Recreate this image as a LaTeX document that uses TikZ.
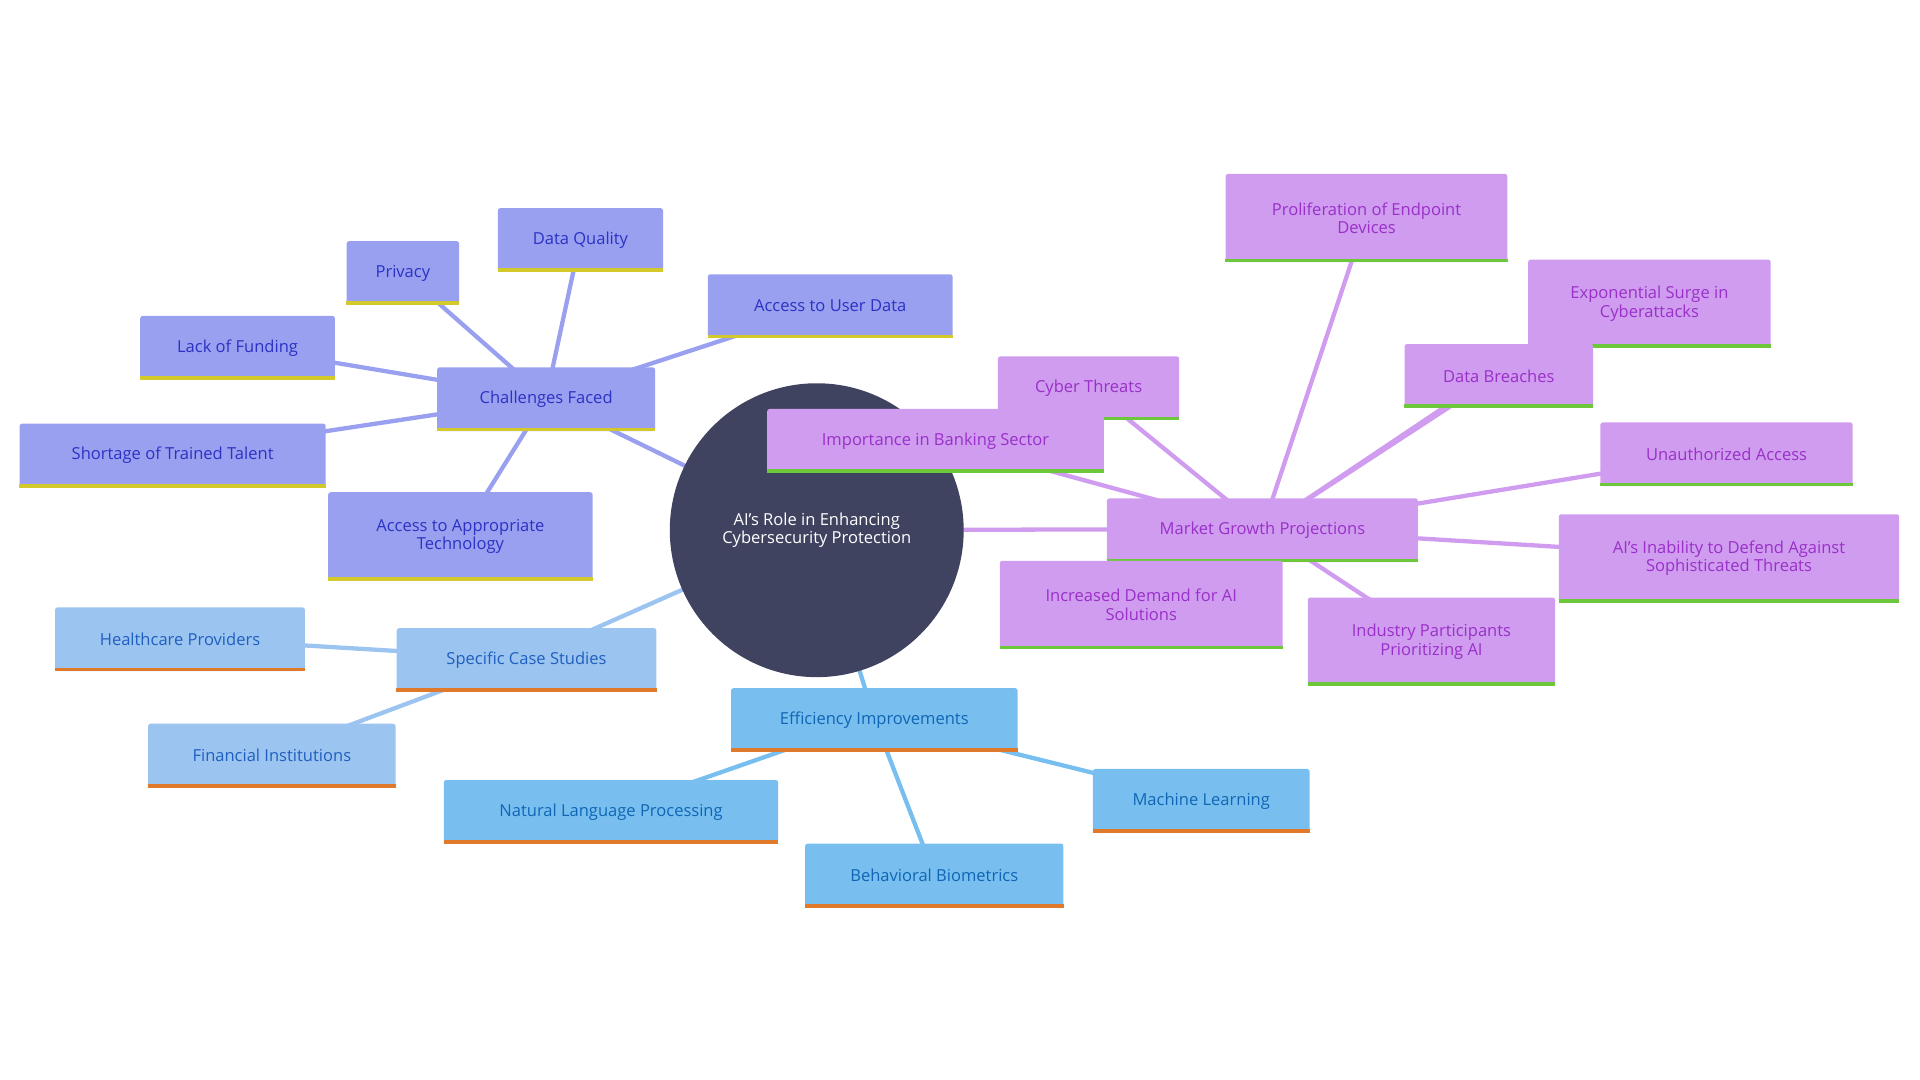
\documentclass[tikz,border=0pt]{standalone}
\usepackage{fontspec}
\setmainfont{Open Sans}
\begin{document}
\begin{tikzpicture}[x=1pt,y=-1pt,
 box/.style={rectangle,rounded corners=2pt,inner sep=2pt,align=center,font=\fontsize{13.5}{15}\selectfont},
 ch/.style={box,fill=chF,text=chT},
 cs/.style={box,fill=csF,text=csT},
 ef/.style={box,fill=efF,text=efT},
 mk/.style={box,fill=mkF,text=mkT},
 ed/.style={line width=3.5pt},
]
\definecolor{chF}{HTML}{9AA0F0}\definecolor{chT}{HTML}{2B32C4}\definecolor{chL}{HTML}{D4C92A}
\definecolor{csF}{HTML}{9CC4F0}\definecolor{csT}{HTML}{1F5FBF}\definecolor{csL}{HTML}{E07A2A}
\definecolor{efF}{HTML}{78BFF0}\definecolor{efT}{HTML}{1066B4}
\definecolor{mkF}{HTML}{CF9CF0}\definecolor{mkT}{HTML}{9A30C8}\definecolor{mkL}{HTML}{6CC83A}
\definecolor{ctr}{HTML}{3F4360}
\useasboundingbox (0,0) rectangle (1568,882);
\newcommand\bx[7]{\node[#6,minimum width=#4,minimum height=#5] (#1) at (#2,#3) {#7};}
\newcommand\bl[2]{\draw[#2,line width=3pt] ([yshift=1.5pt]#1.south west) -- ([yshift=1.5pt]#1.south east);}
% coordinates for edges
\coordinate (C) at (667,433);
\coordinate (ch) at (446,325);\coordinate (dq) at (474,195);\coordinate (pr) at (329,222);
\coordinate (au) at (678,249);\coordinate (lf) at (194,283);\coordinate (st) at (141,371);\coordinate (at) at (376,437);
\coordinate (cs) at (430,538);\coordinate (hp) at (147,521);\coordinate (fi) at (222,616);
\coordinate (ef) at (714,587);\coordinate (nl) at (499,662);\coordinate (bb) at (763,714);\coordinate (ml) at (981,653);
\coordinate (mk) at (1031,432);\coordinate (ct) at (889,316);\coordinate (ib) at (764,359);\coordinate (pe) at (1116,177);
\coordinate (es) at (1347,247);\coordinate (db) at (1224,306);\coordinate (ua) at (1410,370);\coordinate (ai) at (1412,455);
\coordinate (ip) at (1169,523);\coordinate (id) at (932,493);
\foreach \a in {dq,pr,au,lf,st,at}{\draw[ed,chF] (ch) -- (\a);}
\draw[ed,chF] (C) -- (ch);
\foreach \a in {hp,fi}{\draw[ed,csF] (cs) -- (\a);}
\draw[ed,csF] (C) -- (cs);
\foreach \a in {nl,bb,ml}{\draw[ed,efF] (ef) -- (\a);}
\draw[ed,efF] (C) -- (ef);
\foreach \a in {ct,ib,pe,db,ua,ai,ip,id}{\draw[ed,mkF] (mk) -- (\a);}
\draw[ed,mkF] (mk) -- ([xshift=-25pt,yshift=10pt]es.south);
\draw[ed,mkF] (C) -- (mk);
\node[circle,fill=ctr,minimum size=240pt,text=white,align=center,font=\fontsize{13.5}{15}\selectfont] (c) at (C) {AI's Role in Enhancing\\Cybersecurity Protection};
% challenges
\bx{n1}{446}{326}{178}{52}{ch}{Challenges Faced}\bl{n1}{chL}
\bx{n2}{474}{196}{135}{52}{ch}{Data Quality}\bl{n2}{chL}
\bx{n3}{329}{223}{92}{52}{ch}{Privacy}\bl{n3}{chL}
\bx{n4}{678}{250}{200}{52}{ch}{Access to User Data}\bl{n4}{chL}
\bx{n5}{194}{284}{159}{52}{ch}{Lack of Funding}\bl{n5}{chL}
\bx{n6}{141}{372}{250}{52}{ch}{Shortage of Trained Talent}\bl{n6}{chL}
\bx{n7}{376}{438}{216}{72}{ch}{Access to Appropriate\\Technology}\bl{n7}{chL}
% case studies
\bx{n8}{430}{539}{212}{52}{cs}{Specific Case Studies}\bl{n8}{csL}
\bx{n9}{147}{522}{204}{52}{cs}{Healthcare Providers}\bl{n9}{csL}
\bx{n10}{222}{617}{202}{52}{cs}{Financial Institutions}\bl{n10}{csL}
% efficiency
\bx{n11}{714}{588}{234}{52}{ef}{Efficiency Improvements}\bl{n11}{csL}
\bx{n12}{499}{663}{273}{52}{ef}{Natural Language Processing}\bl{n12}{csL}
\bx{n13}{763}{715}{211}{52}{ef}{Behavioral Biometrics}\bl{n13}{csL}
\bx{n14}{981}{654}{177}{52}{ef}{Machine Learning}\bl{n14}{csL}
% market
\bx{n15}{1031}{433}{254}{52}{mk}{Market Growth Projections}\bl{n15}{mkL}
\bx{n16}{889}{317}{148}{52}{mk}{Cyber Threats}\bl{n16}{mkL}
\bx{n17}{764}{360}{275}{52}{mk}{Importance in Banking Sector}\bl{n17}{mkL}
\bx{n18}{1116}{178}{230}{72}{mk}{Proliferation of Endpoint\\Devices}\bl{n18}{mkL}
\bx{n19}{1347}{248}{198}{72}{mk}{Exponential Surge in\\Cyberattacks}\bl{n19}{mkL}
\bx{n20}{1224}{307}{154}{52}{mk}{Data Breaches}\bl{n20}{mkL}
\bx{n21}{1410}{371}{206}{52}{mk}{Unauthorized Access}\bl{n21}{mkL}
\bx{n22}{1412}{456}{278}{72}{mk}{AI's Inability to Defend Against\\Sophisticated Threats}\bl{n22}{mkL}
\bx{n23}{1169}{524}{202}{72}{mk}{Industry Participants\\Prioritizing AI}\bl{n23}{mkL}
\bx{n24}{932}{494}{231}{72}{mk}{Increased Demand for AI\\Solutions}\bl{n24}{mkL}
\end{tikzpicture}
\end{document}
